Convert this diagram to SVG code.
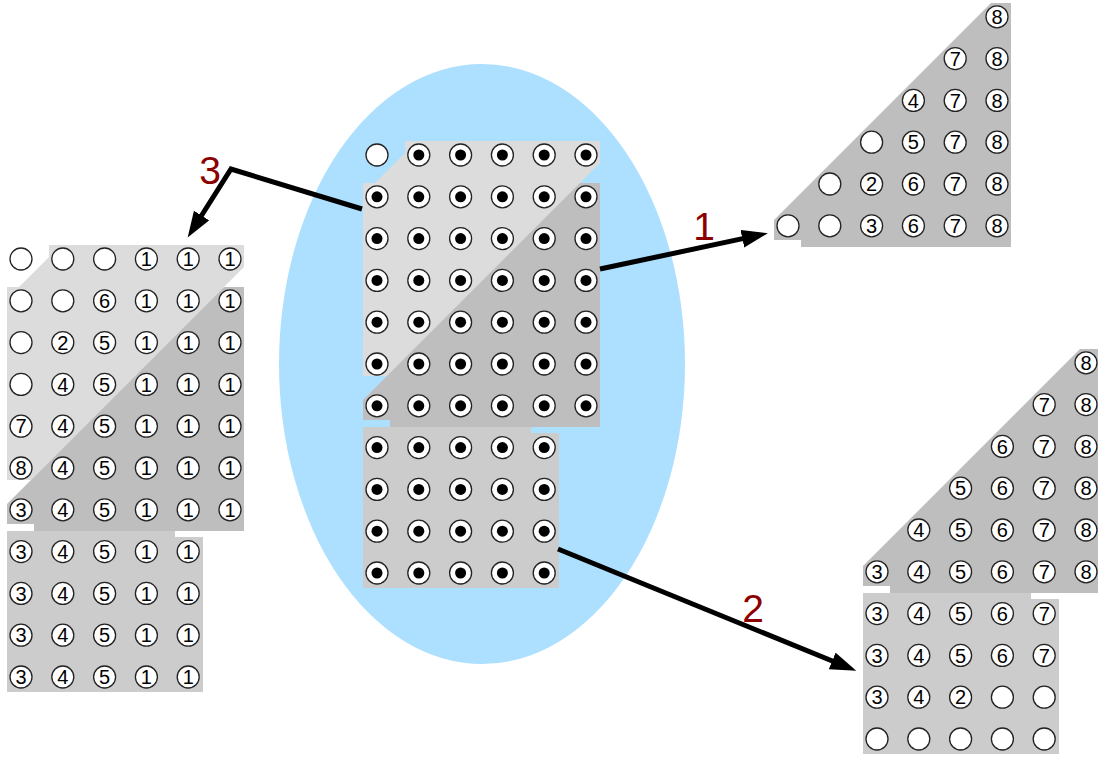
<svg xmlns="http://www.w3.org/2000/svg" xmlns:xlink="http://www.w3.org/1999/xlink" width="1098" height="758" viewBox="0 0 1098 758">
<style>
.light{fill:#dcdcdc}
.dark{fill:#bebebe}
.low{fill:#cccccc}
.cir{fill:#ffffff;stroke:#222;stroke-width:1.3}
.dot{fill:#000}
.n{font-family:"Liberation Sans",Arial,sans-serif;font-size:20px;text-anchor:middle;fill:#000}
.lbl{font-family:"Liberation Sans",Arial,sans-serif;font-size:39px;text-anchor:middle;fill:#8b0000}
.arrow{fill:none;stroke:#000;stroke-width:5;stroke-linejoin:miter}
</style>
<defs>
<polygon id="lightShape" points="405,141 600,141 600,163 387,376 363,376 363,183 375,183 405,153"/>
<polygon id="darkShape" points="580,183 600,183 600,427 390,427 390,420 363,420 363,400"/>
<polygon id="lowShape" points="363,427 531,427 531,433 559,433 559,588 363,588"/>
<circle id="c" class="cir" r="11"/>
<g id="d"><circle class="cir" r="11"/><circle class="dot" r="5.5"/></g>
<marker id="ah" markerUnits="userSpaceOnUse" markerWidth="28" markerHeight="20" refX="16" refY="9" orient="auto">
<path d="M0,0 L26,9 L0,18 z" fill="#000"/>
</marker>
</defs>
<rect width="1098" height="758" fill="#fff"/>
<ellipse id="region" cx="482" cy="364" rx="203" ry="300" fill="#ade0ff"/>

<g id="source">
<use href="#lightShape" class="light"/>
<use href="#darkShape" class="dark"/>
<use href="#lowShape" class="low"/>
<use href="#c" x="377" y="155"/>
<use href="#d" x="418.8" y="155"/><use href="#d" x="460.6" y="155"/><use href="#d" x="502.4" y="155"/><use href="#d" x="544.2" y="155"/><use href="#d" x="586" y="155"/>
<use href="#d" x="377" y="196.8"/><use href="#d" x="418.8" y="196.8"/><use href="#d" x="460.6" y="196.8"/><use href="#d" x="502.4" y="196.8"/><use href="#d" x="544.2" y="196.8"/><use href="#d" x="586" y="196.8"/>
<use href="#d" x="377" y="238.6"/><use href="#d" x="418.8" y="238.6"/><use href="#d" x="460.6" y="238.6"/><use href="#d" x="502.4" y="238.6"/><use href="#d" x="544.2" y="238.6"/><use href="#d" x="586" y="238.6"/>
<use href="#d" x="377" y="280.4"/><use href="#d" x="418.8" y="280.4"/><use href="#d" x="460.6" y="280.4"/><use href="#d" x="502.4" y="280.4"/><use href="#d" x="544.2" y="280.4"/><use href="#d" x="586" y="280.4"/>
<use href="#d" x="377" y="322.2"/><use href="#d" x="418.8" y="322.2"/><use href="#d" x="460.6" y="322.2"/><use href="#d" x="502.4" y="322.2"/><use href="#d" x="544.2" y="322.2"/><use href="#d" x="586" y="322.2"/>
<use href="#d" x="377" y="364"/><use href="#d" x="418.8" y="364"/><use href="#d" x="460.6" y="364"/><use href="#d" x="502.4" y="364"/><use href="#d" x="544.2" y="364"/><use href="#d" x="586" y="364"/>
<use href="#d" x="377" y="405.8"/><use href="#d" x="418.8" y="405.8"/><use href="#d" x="460.6" y="405.8"/><use href="#d" x="502.4" y="405.8"/><use href="#d" x="544.2" y="405.8"/><use href="#d" x="586" y="405.8"/>
<use href="#d" x="377" y="447.6"/><use href="#d" x="418.8" y="447.6"/><use href="#d" x="460.6" y="447.6"/><use href="#d" x="502.4" y="447.6"/><use href="#d" x="544.2" y="447.6"/>
<use href="#d" x="377" y="489.4"/><use href="#d" x="418.8" y="489.4"/><use href="#d" x="460.6" y="489.4"/><use href="#d" x="502.4" y="489.4"/><use href="#d" x="544.2" y="489.4"/>
<use href="#d" x="377" y="531.2"/><use href="#d" x="418.8" y="531.2"/><use href="#d" x="460.6" y="531.2"/><use href="#d" x="502.4" y="531.2"/><use href="#d" x="544.2" y="531.2"/>
<use href="#d" x="377" y="573"/><use href="#d" x="418.8" y="573"/><use href="#d" x="460.6" y="573"/><use href="#d" x="502.4" y="573"/><use href="#d" x="544.2" y="573"/>
</g>

<g id="result3" transform="translate(-356,104)">
<use href="#lightShape" class="light"/>
<use href="#darkShape" class="dark"/>
<use href="#lowShape" class="low"/>
<use href="#c" x="377" y="155"/><use href="#c" x="418.8" y="155"/><use href="#c" x="460.6" y="155"/><use href="#c" x="502.4" y="155"/><use href="#c" x="544.2" y="155"/><use href="#c" x="586" y="155"/>
<text class="n" x="502.4" y="162.2">1</text><text class="n" x="544.2" y="162.2">1</text><text class="n" x="586" y="162.2">1</text>
<use href="#c" x="377" y="196.8"/><use href="#c" x="418.8" y="196.8"/><use href="#c" x="460.6" y="196.8"/><use href="#c" x="502.4" y="196.8"/><use href="#c" x="544.2" y="196.8"/><use href="#c" x="586" y="196.8"/>
<text class="n" x="460.6" y="204">6</text><text class="n" x="502.4" y="204">1</text><text class="n" x="544.2" y="204">1</text><text class="n" x="586" y="204">1</text>
<use href="#c" x="377" y="238.6"/><use href="#c" x="418.8" y="238.6"/><use href="#c" x="460.6" y="238.6"/><use href="#c" x="502.4" y="238.6"/><use href="#c" x="544.2" y="238.6"/><use href="#c" x="586" y="238.6"/>
<text class="n" x="418.8" y="245.8">2</text><text class="n" x="460.6" y="245.8">5</text><text class="n" x="502.4" y="245.8">1</text><text class="n" x="544.2" y="245.8">1</text><text class="n" x="586" y="245.8">1</text>
<use href="#c" x="377" y="280.4"/><use href="#c" x="418.8" y="280.4"/><use href="#c" x="460.6" y="280.4"/><use href="#c" x="502.4" y="280.4"/><use href="#c" x="544.2" y="280.4"/><use href="#c" x="586" y="280.4"/>
<text class="n" x="418.8" y="287.6">4</text><text class="n" x="460.6" y="287.6">5</text><text class="n" x="502.4" y="287.6">1</text><text class="n" x="544.2" y="287.6">1</text><text class="n" x="586" y="287.6">1</text>
<use href="#c" x="377" y="322.2"/><use href="#c" x="418.8" y="322.2"/><use href="#c" x="460.6" y="322.2"/><use href="#c" x="502.4" y="322.2"/><use href="#c" x="544.2" y="322.2"/><use href="#c" x="586" y="322.2"/>
<text class="n" x="377" y="329.4">7</text><text class="n" x="418.8" y="329.4">4</text><text class="n" x="460.6" y="329.4">5</text><text class="n" x="502.4" y="329.4">1</text><text class="n" x="544.2" y="329.4">1</text><text class="n" x="586" y="329.4">1</text>
<use href="#c" x="377" y="364"/><use href="#c" x="418.8" y="364"/><use href="#c" x="460.6" y="364"/><use href="#c" x="502.4" y="364"/><use href="#c" x="544.2" y="364"/><use href="#c" x="586" y="364"/>
<text class="n" x="377" y="371.2">8</text><text class="n" x="418.8" y="371.2">4</text><text class="n" x="460.6" y="371.2">5</text><text class="n" x="502.4" y="371.2">1</text><text class="n" x="544.2" y="371.2">1</text><text class="n" x="586" y="371.2">1</text>
<use href="#c" x="377" y="405.8"/><use href="#c" x="418.8" y="405.8"/><use href="#c" x="460.6" y="405.8"/><use href="#c" x="502.4" y="405.8"/><use href="#c" x="544.2" y="405.8"/><use href="#c" x="586" y="405.8"/>
<text class="n" x="377" y="413">3</text><text class="n" x="418.8" y="413">4</text><text class="n" x="460.6" y="413">5</text><text class="n" x="502.4" y="413">1</text><text class="n" x="544.2" y="413">1</text><text class="n" x="586" y="413">1</text>
<use href="#c" x="377" y="447.6"/><use href="#c" x="418.8" y="447.6"/><use href="#c" x="460.6" y="447.6"/><use href="#c" x="502.4" y="447.6"/><use href="#c" x="544.2" y="447.6"/>
<text class="n" x="377" y="454.8">3</text><text class="n" x="418.8" y="454.8">4</text><text class="n" x="460.6" y="454.8">5</text><text class="n" x="502.4" y="454.8">1</text><text class="n" x="544.2" y="454.8">1</text>
<use href="#c" x="377" y="489.4"/><use href="#c" x="418.8" y="489.4"/><use href="#c" x="460.6" y="489.4"/><use href="#c" x="502.4" y="489.4"/><use href="#c" x="544.2" y="489.4"/>
<text class="n" x="377" y="496.6">3</text><text class="n" x="418.8" y="496.6">4</text><text class="n" x="460.6" y="496.6">5</text><text class="n" x="502.4" y="496.6">1</text><text class="n" x="544.2" y="496.6">1</text>
<use href="#c" x="377" y="531.2"/><use href="#c" x="418.8" y="531.2"/><use href="#c" x="460.6" y="531.2"/><use href="#c" x="502.4" y="531.2"/><use href="#c" x="544.2" y="531.2"/>
<text class="n" x="377" y="538.4">3</text><text class="n" x="418.8" y="538.4">4</text><text class="n" x="460.6" y="538.4">5</text><text class="n" x="502.4" y="538.4">1</text><text class="n" x="544.2" y="538.4">1</text>
<use href="#c" x="377" y="573"/><use href="#c" x="418.8" y="573"/><use href="#c" x="460.6" y="573"/><use href="#c" x="502.4" y="573"/><use href="#c" x="544.2" y="573"/>
<text class="n" x="377" y="580.2">3</text><text class="n" x="418.8" y="580.2">4</text><text class="n" x="460.6" y="580.2">5</text><text class="n" x="502.4" y="580.2">1</text><text class="n" x="544.2" y="580.2">1</text>
</g>

<g id="result1" transform="translate(411,-180)">
<use href="#darkShape" class="dark"/>
<use href="#c" x="586" y="196.8"/>
<text class="n" x="586" y="204">8</text>
<use href="#c" x="544.2" y="238.6"/><use href="#c" x="586" y="238.6"/>
<text class="n" x="544.2" y="245.8">7</text><text class="n" x="586" y="245.8">8</text>
<use href="#c" x="502.4" y="280.4"/><use href="#c" x="544.2" y="280.4"/><use href="#c" x="586" y="280.4"/>
<text class="n" x="502.4" y="287.6">4</text><text class="n" x="544.2" y="287.6">7</text><text class="n" x="586" y="287.6">8</text>
<use href="#c" x="460.6" y="322.2"/><use href="#c" x="502.4" y="322.2"/><use href="#c" x="544.2" y="322.2"/><use href="#c" x="586" y="322.2"/>
<text class="n" x="502.4" y="329.4">5</text><text class="n" x="544.2" y="329.4">7</text><text class="n" x="586" y="329.4">8</text>
<use href="#c" x="418.8" y="364"/><use href="#c" x="460.6" y="364"/><use href="#c" x="502.4" y="364"/><use href="#c" x="544.2" y="364"/><use href="#c" x="586" y="364"/>
<text class="n" x="460.6" y="371.2">2</text><text class="n" x="502.4" y="371.2">6</text><text class="n" x="544.2" y="371.2">7</text><text class="n" x="586" y="371.2">8</text>
<use href="#c" x="377" y="405.8"/><use href="#c" x="418.8" y="405.8"/><use href="#c" x="460.6" y="405.8"/><use href="#c" x="502.4" y="405.8"/><use href="#c" x="544.2" y="405.8"/><use href="#c" x="586" y="405.8"/>
<text class="n" x="460.6" y="413">3</text><text class="n" x="502.4" y="413">6</text><text class="n" x="544.2" y="413">7</text><text class="n" x="586" y="413">8</text>
</g>

<g id="result2" transform="translate(500,166)">
<use href="#darkShape" class="dark"/>
<use href="#lowShape" class="low"/>
<use href="#c" x="586" y="196.8"/>
<text class="n" x="586" y="204">8</text>
<use href="#c" x="544.2" y="238.6"/><use href="#c" x="586" y="238.6"/>
<text class="n" x="544.2" y="245.8">7</text><text class="n" x="586" y="245.8">8</text>
<use href="#c" x="502.4" y="280.4"/><use href="#c" x="544.2" y="280.4"/><use href="#c" x="586" y="280.4"/>
<text class="n" x="502.4" y="287.6">6</text><text class="n" x="544.2" y="287.6">7</text><text class="n" x="586" y="287.6">8</text>
<use href="#c" x="460.6" y="322.2"/><use href="#c" x="502.4" y="322.2"/><use href="#c" x="544.2" y="322.2"/><use href="#c" x="586" y="322.2"/>
<text class="n" x="460.6" y="329.4">5</text><text class="n" x="502.4" y="329.4">6</text><text class="n" x="544.2" y="329.4">7</text><text class="n" x="586" y="329.4">8</text>
<use href="#c" x="418.8" y="364"/><use href="#c" x="460.6" y="364"/><use href="#c" x="502.4" y="364"/><use href="#c" x="544.2" y="364"/><use href="#c" x="586" y="364"/>
<text class="n" x="418.8" y="371.2">4</text><text class="n" x="460.6" y="371.2">5</text><text class="n" x="502.4" y="371.2">6</text><text class="n" x="544.2" y="371.2">7</text><text class="n" x="586" y="371.2">8</text>
<use href="#c" x="377" y="405.8"/><use href="#c" x="418.8" y="405.8"/><use href="#c" x="460.6" y="405.8"/><use href="#c" x="502.4" y="405.8"/><use href="#c" x="544.2" y="405.8"/><use href="#c" x="586" y="405.8"/>
<text class="n" x="377" y="413">3</text><text class="n" x="418.8" y="413">4</text><text class="n" x="460.6" y="413">5</text><text class="n" x="502.4" y="413">6</text><text class="n" x="544.2" y="413">7</text><text class="n" x="586" y="413">8</text>
<use href="#c" x="377" y="447.6"/><use href="#c" x="418.8" y="447.6"/><use href="#c" x="460.6" y="447.6"/><use href="#c" x="502.4" y="447.6"/><use href="#c" x="544.2" y="447.6"/>
<text class="n" x="377" y="454.8">3</text><text class="n" x="418.8" y="454.8">4</text><text class="n" x="460.6" y="454.8">5</text><text class="n" x="502.4" y="454.8">6</text><text class="n" x="544.2" y="454.8">7</text>
<use href="#c" x="377" y="489.4"/><use href="#c" x="418.8" y="489.4"/><use href="#c" x="460.6" y="489.4"/><use href="#c" x="502.4" y="489.4"/><use href="#c" x="544.2" y="489.4"/>
<text class="n" x="377" y="496.6">3</text><text class="n" x="418.8" y="496.6">4</text><text class="n" x="460.6" y="496.6">5</text><text class="n" x="502.4" y="496.6">6</text><text class="n" x="544.2" y="496.6">7</text>
<use href="#c" x="377" y="531.2"/><use href="#c" x="418.8" y="531.2"/><use href="#c" x="460.6" y="531.2"/><use href="#c" x="502.4" y="531.2"/><use href="#c" x="544.2" y="531.2"/>
<text class="n" x="377" y="538.4">3</text><text class="n" x="418.8" y="538.4">4</text><text class="n" x="460.6" y="538.4">2</text>
<use href="#c" x="377" y="573"/><use href="#c" x="418.8" y="573"/><use href="#c" x="460.6" y="573"/><use href="#c" x="502.4" y="573"/><use href="#c" x="544.2" y="573"/>
</g>

<g id="connectors">
<path class="arrow" d="M600,269 L758,235.4" marker-end="url(#ah)"/>
<path class="arrow" d="M558,549 L847,667" marker-end="url(#ah)"/>
<path class="arrow" d="M362,209 L231,169 L193,229" marker-end="url(#ah)"/>
<text class="lbl" x="704" y="240">1</text>
<text class="lbl" x="753" y="622">2</text>
<text class="lbl" x="210" y="184">3</text>
</g>
</svg>
